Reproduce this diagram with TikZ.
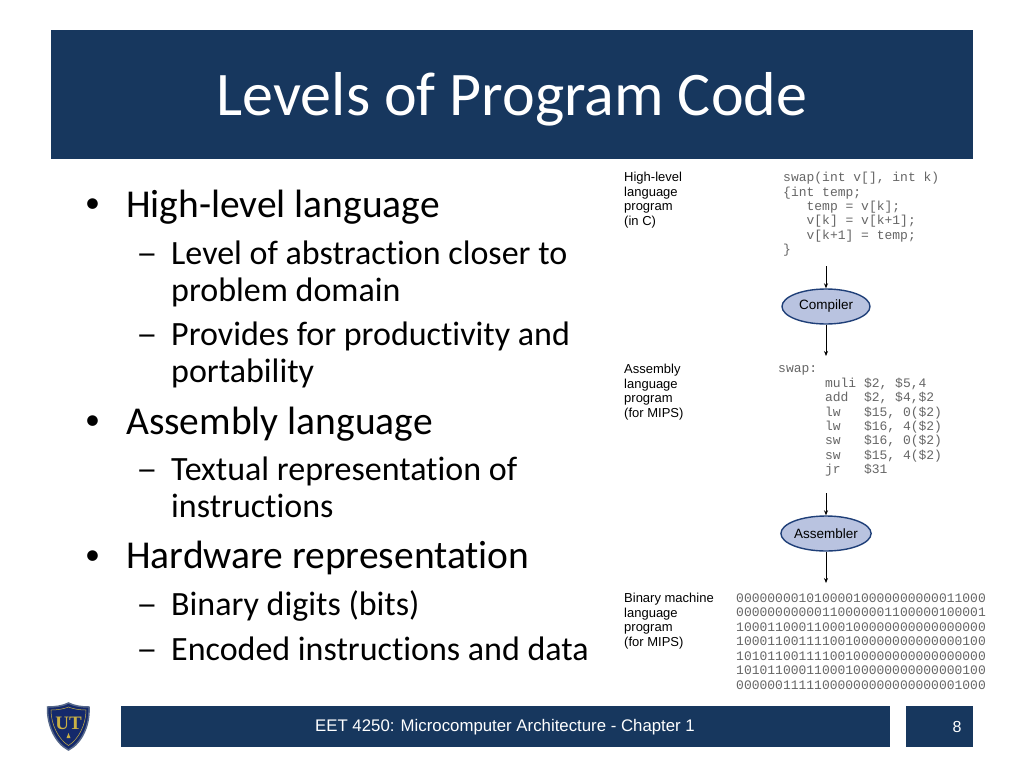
\documentclass[tikz,border=0pt]{standalone}
\usepackage{fontspec}
\setmainfont[Ligatures=NoCommon]{Carlito}
\newfontfamily\arialfont{Liberation Sans}
\newfontfamily\codefont{Liberation Mono}
\newfontfamily\crestfont{Liberation Serif}
\usetikzlibrary{shapes.geometric,arrows.meta}
\definecolor{slidenavy}{HTML}{17375E}
\definecolor{ovalfill}{HTML}{B9C3E0}
\definecolor{ovalline}{HTML}{1F3F78}
\definecolor{crestnavy}{HTML}{14296B}
\definecolor{crestgold}{HTML}{C9B045}
\definecolor{crestedge}{HTML}{56688A}
\tikzset{
	bar/.style={fill=slidenavy,draw=none},
	bulletmark/.style={anchor=base,inner sep=0pt,font=\fontsize{30}{30}\selectfont},
	dashmark/.style={anchor=base west,inner sep=0pt,xscale=1.25,font=\fontsize{34}{34}\selectfont},
	headitem/.style={anchor=base west,inner sep=0pt,font=\fontsize{39.5}{39.5}\selectfont},
	subitem/.style={anchor=base west,inner sep=0pt,font=\fontsize{34}{34}\selectfont},
	tag/.style={anchor=north west,inner sep=0pt,align=left,font=\arialfont\fontsize{13}{14.5}\selectfont},
	listing/.style={anchor=north west,inner sep=0pt,align=left,text=black!60,font=\codefont\fontsize{13}{14.45}\selectfont},
	tool/.style={ellipse,draw=ovalline,fill=ovalfill,line width=1.4pt,minimum width=88pt,minimum height=35pt,inner sep=0pt,font=\arialfont\fontsize{13.5}{14}\selectfont},
	flow/.style={-{Stealth[length=5pt,width=4pt]},line width=.7pt}
}
\begin{document}
\begin{tikzpicture}[x=1pt,y=-1pt]
	\useasboundingbox[fill=white] (0,0) rectangle (1024,768);

	\fill[bar] (51,30) rectangle (973,159);
	\node[text=white,anchor=base,inner sep=0pt,font=\fontsize{62}{62}\selectfont] (title) at (512,115){Levels of Program Code};

	\node[bulletmark] (b1) at (92.5,212.5){•};
	\node[headitem] (high) at (126,217){High-level language};
	\node[dashmark] (d1) at (136,264){–};
	\node[subitem] (s1) at (171,264){Level of abstraction closer to};
	\node[subitem] (s1b) at (171,301){problem domain};
	\node[dashmark] (d2) at (136,345){–};
	\node[subitem] (s2) at (171,345){Provides for productivity and};
	\node[subitem] (s2b) at (171,382){portability};
	\node[bulletmark] (b2) at (92.5,429.5){•};
	\node[headitem] (assembly) at (126,434){Assembly language};
	\node[dashmark] (d3) at (136,480){–};
	\node[subitem] (s3) at (171,480){Textual representation of};
	\node[subitem] (s3b) at (171,517){instructions};
	\node[bulletmark] (b3) at (92.5,564){•};
	\node[headitem] (hardware) at (126,568.5){Hardware representation};
	\node[dashmark] (d4) at (136,615){–};
	\node[subitem] (s4) at (171,615){Binary digits (bits)};
	\node[dashmark] (d5) at (136,660){–};
	\node[subitem] (s5) at (171,660){Encoded instructions and data};

	\node[tag] (tagc) at (624,172){High-level\\language\\program\\(in C)};
	\node[tag] (tagasm) at (624,364){Assembly\\language\\program\\(for MIPS)};
	\node[tag] (tagbin) at (624,593){Binary machine\\language\\program\\(for MIPS)};

	\node[listing] (codec) at (783,172){swap(int v[], int k)\\\{int temp;\\\ \ \ temp = v[k];\\\ \ \ v[k] = v[k+1];\\\ \ \ v[k+1] = temp;\\\}};
	\node[listing] (codeasm) at (778,365.5){swap:\\\ \ \ \ \ \ muli \$2, \$5,4\\\ \ \ \ \ \ add\ \ \$2, \$4,\$2\\\ \ \ \ \ \ lw\ \ \ \$15, 0(\$2)\\\ \ \ \ \ \ lw\ \ \ \$16, 4(\$2)\\\ \ \ \ \ \ sw\ \ \ \$16, 0(\$2)\\\ \ \ \ \ \ sw\ \ \ \$15, 4(\$2)\\\ \ \ \ \ \ jr\ \ \ \$31};
	\node[listing] (codebin) at (736,593.5){00000000101000010000000000011000\\00000000000110000001100000100001\\10001100011000100000000000000000\\10001100111100100000000000000100\\10101100111100100000000000000000\\10101100011000100000000000000100\\00000011111000000000000000001000};

	\node[tool] (compiler) at (826,306.5){Compiler};
	\node[tool] (assembler) at (826,533.5){Assembler};
	\coordinate (compilerin) at (826,266);
	\coordinate (compilerout) at (826,356);
	\coordinate (assemblerin) at (826,493);
	\coordinate (assemblerout) at (826,583);
	\draw[flow] (compilerin) -- (compiler);
	\draw[flow] (compiler) -- (compilerout);
	\draw[flow] (assemblerin) -- (assembler);
	\draw[flow] (assembler) -- (assemblerout);

	\fill[bar] (121,706) rectangle (890,747);
	\fill[bar] (906,706) rectangle (973,747);
	\node[text=white,inner sep=0pt,font=\arialfont\fontsize{16.8}{16.8}\selectfont] (footer) at (505,727.5){EET 4250: Microcomputer Architecture - Chapter 1};
	\node[text=white,inner sep=0pt,font=\arialfont\fontsize{16}{16}\selectfont] (pagenum) at (957,726.5){8};

	\filldraw[fill=crestnavy,draw=crestedge,line width=1.5pt] (47.5,707) .. controls (55,707) and (63,706) .. (68.5,703) .. controls (74,706) and (82,707) .. (89,707) .. controls (90,725) and (82,743) .. (68.5,750) .. controls (55,743) and (47,725) .. (47.5,707) -- cycle;
	\draw[crestgold,line width=.5pt] (51,710) .. controls (57,710) and (64,709) .. (68.5,707) .. controls (73,709) and (80,710) .. (86,710) .. controls (86,724) and (79,739) .. (68.5,745.5) .. controls (58,739) and (51,724) .. (51,710) -- cycle;
	\node[text=crestgold,inner sep=0pt,font=\crestfont\bfseries\fontsize{19}{19}\selectfont] (crest) at (68.5,723){UT};
	\fill[crestgold] (68.5,733) -- (70.5,738) -- (66.5,738) -- cycle;
\end{tikzpicture}
\end{document}
